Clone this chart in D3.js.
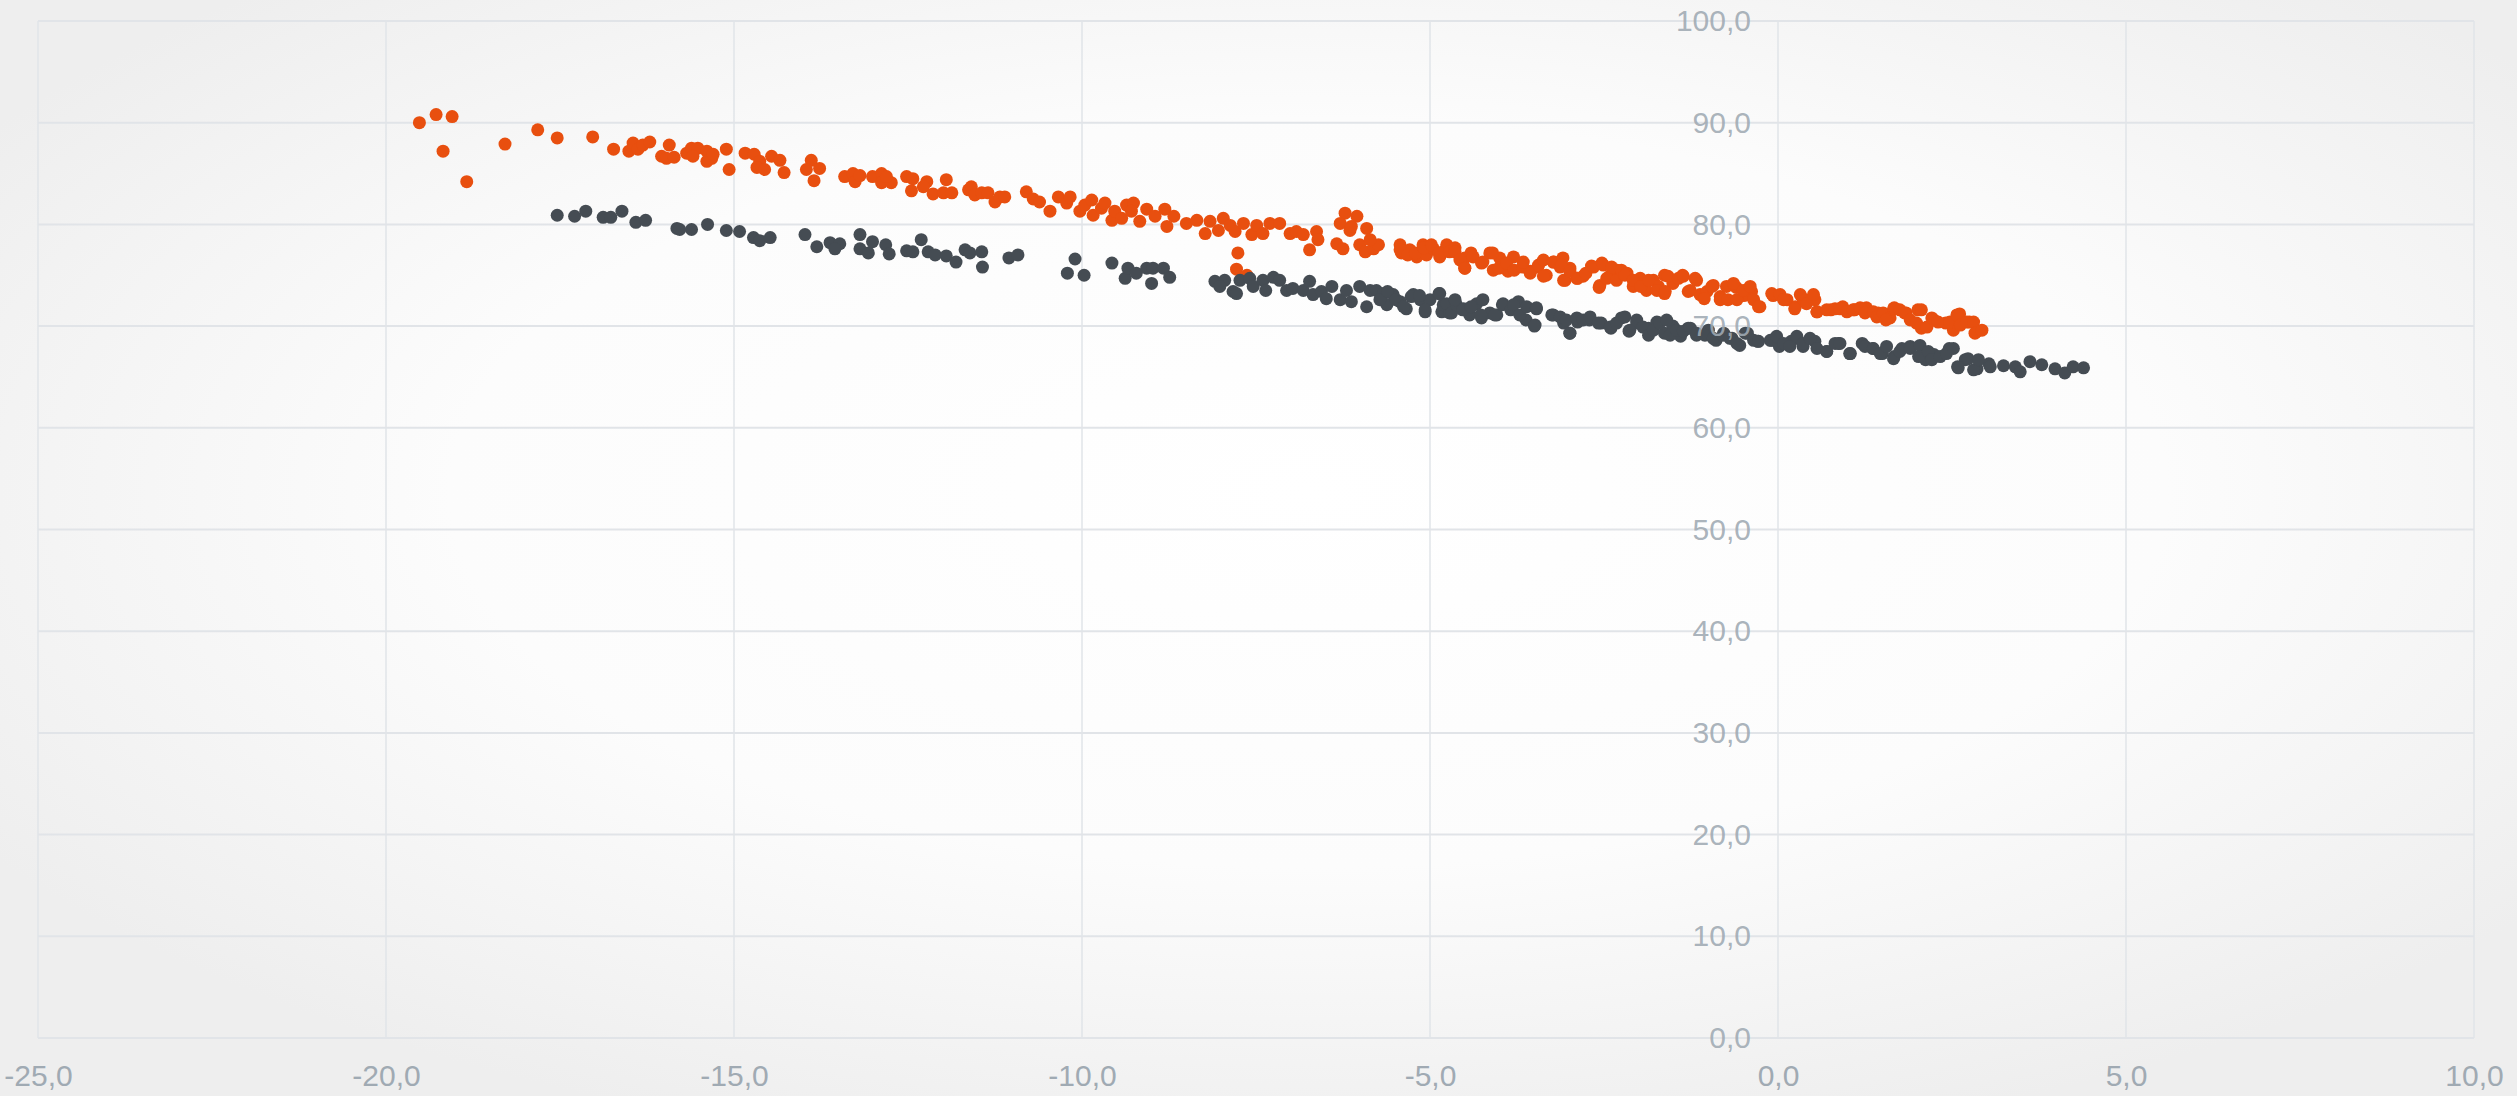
<!DOCTYPE html>
<html>
<head>
<meta charset="utf-8">
<script src="https://cdn.jsdelivr.net/npm/d3@7"></script>
<style>
  html, body { margin: 0; padding: 0; }
  body { width: 2517px; height: 1096px; overflow: hidden; }
  svg { display: block; }
</style>
</head>
<body>
<svg id="chart" width="2517" height="1096"></svg>
<script>
// Axis ranges and tick values
const xTicks = [-25, -20, -15, -10, -5, 0, 5, 10];
const yTicks = [0, 10, 20, 30, 40, 50, 60, 70, 80, 90, 100];

// Upper series (orange) as [x, y] pairs
const seriesOrange = [
  [-19.52,90.0],[-19.28,90.8],[-19.05,90.6],[-19.18,87.2],[-18.84,84.2],[-18.29,87.9],[-17.82,89.3],[-17.54,88.5],[-17.03,88.6],[-16.73,87.4],
  [-16.51,87.2],[-16.45,88.0],[-16.38,87.4],[-16.31,87.8],[-16.21,88.1],
  [-15.93,87.8],[-16.04,86.7],[-15.97,86.5],[-15.86,86.6],
  [-15.68,87.0],[-15.61,87.5],[-15.52,87.5],[-15.59,86.7],[-15.39,87.2],[-15.32,86.5],[-15.39,86.2],[-15.30,86.9],
  [-15.11,87.4],[-15.07,85.4],[-14.84,87.0],[-14.71,86.9],[-14.63,86.2],[-14.67,85.6],[-14.56,85.4],[-14.46,86.7],[-14.34,86.3],[-14.28,85.1],
  [-13.89,86.3],[-13.96,85.4],[-13.77,85.5],[-13.85,84.3],
  [-13.41,84.7],[-13.29,85.0],[-13.26,84.2],[-13.19,84.8],
  [-13.01,84.7],[-12.88,85.0],[-12.88,84.1],[-12.74,84.1],[-12.81,84.7],
  [-12.52,84.7],[-12.43,84.5],[-12.45,83.3],[-12.23,84.2],[-12.28,83.7],
  [-12.14,83.0],[-11.95,84.4],[-11.99,83.1],[-11.87,83.1],[-11.63,83.4],
  [-11.59,83.7],[-11.54,82.9],[-11.44,83.1],[-11.35,83.1],[-11.25,82.2],[-11.18,82.7],[-11.11,82.7],
  [-10.80,83.2],[-10.70,82.5],[-10.61,82.2],[-10.46,81.3],[-10.34,82.7],[-10.22,82.1],[-10.17,82.7],
  [-10.03,81.3],[-9.96,81.9],[-9.86,82.4],[-9.84,80.9],[-9.72,81.6],[-9.67,82.1],
  [-9.57,80.4],[-9.53,81.3],[-9.43,80.6],[-9.36,81.9],[-9.26,82.1],[-9.29,81.3],[-9.17,80.3],
  [-9.07,81.5],[-8.95,80.8],[-8.81,81.5],[-8.78,79.8],[-8.68,80.8],
  [-8.50,80.1],[-8.35,80.4],[-8.23,79.1],[-8.16,80.3],
  [-8.04,79.4],[-7.97,80.6],[-7.87,79.9],[-7.80,79.3],[-7.68,80.1],[-7.56,79.0],[-7.49,79.9],
  [-7.76,77.2],[-7.78,75.6],[-7.63,75.0],
  [-7.40,79.1],[-7.30,80.1],[-7.16,80.1],[-7.01,79.1],[-6.92,79.3],[-6.82,79.0],[-6.73,77.5],[-6.63,79.3],[-6.61,78.5],
  [-6.22,81.1],[-6.29,80.1],[-6.34,78.1],[-6.25,77.6],[-6.15,79.4],[-6.05,80.8],[-6.13,79.8],
  [-5.91,79.6],[-6.01,78.0],[-5.93,77.3],[-5.81,77.6],[-5.74,78.0],[-5.86,78.5],
  [-5.43,78.0],[-5.41,77.2],[-5.29,77.5],[-5.19,76.8],[-5.10,78.0],[-5.05,77.0],[-4.95,77.6],[-4.86,76.8],[-4.81,77.3],[-4.76,78.0],
  [-5.43,77.5],[-5.32,77.0],[-5.21,77.2],[-5.09,77.7],[-4.98,78.0],[-4.87,77.2],[-4.72,77.3],[-4.64,77.7],[-4.50,76.7],[-4.50,75.7],[-4.41,77.2],
  [-4.64,77.3],[-4.57,76.5],[-4.50,75.7],[-4.38,76.8],[-4.26,76.2],[-4.14,77.2],[-4.09,75.5],[-4.00,76.7],[-3.88,75.4],[-3.80,76.8],
  [-4.24,76.3],[-4.10,77.2],[-4.01,75.7],[-3.90,76.2],[-3.79,75.5],[-3.67,75.8],[-3.56,75.4],[-3.45,75.8],[-3.33,75.0],[-3.22,76.3],
  [-3.66,76.3],[-3.56,75.2],[-3.44,76.0],[-3.37,74.9],[-3.37,76.5],
  [-3.23,76.3],[-3.13,75.8],[-3.09,76.7],[-3.06,74.5],[-2.99,75.7],[-2.89,74.7],[-2.80,74.9],[-2.68,75.9],[-2.56,74.0],[-2.53,76.2],
  [-3.11,76.0],[-3.08,74.5],[-2.99,75.4],[-2.88,74.7],[-2.76,75.2],[-2.65,75.8],[-2.57,73.8],[-2.51,76.0],[-2.42,74.9],[-2.31,75.5],
  [-2.46,74.7],[-2.39,75.8],[-2.32,74.5],[-2.25,75.5],[-2.17,75.2],[-2.08,73.9],[-1.98,74.7],[-1.89,73.5],[-1.79,74.5],[-1.72,73.9],
  [-2.20,75.0],[-2.08,74.5],[-1.97,73.9],[-1.86,74.5],[-1.74,73.5],[-1.63,75.0],[-1.63,73.2],[-1.51,74.2],[-1.37,75.0],[-1.29,73.4],
  [-1.62,73.4],[-1.58,74.9],[-1.43,74.7],[-1.36,74.9],[-1.26,73.5],[-1.19,74.7],[-1.12,73.1],[-1.02,73.4],[-0.93,74.0],[-0.83,72.9],
  [-1.17,74.5],[-1.06,72.7],[-0.95,73.9],[-0.83,72.6],[-0.72,72.6],[-0.60,73.8],[-0.49,73.0],[-0.38,73.4],[-0.26,71.9],[-0.07,73.0],
  [-0.74,73.9],[-0.64,74.2],[-0.59,72.6],[-0.50,73.5],[-0.40,73.9],[-0.35,72.6],[-0.28,71.9],[-0.09,73.2],[0.03,73.1],[0.13,72.6],
  [0.08,72.6],[0.25,71.9],[0.36,72.7],[0.53,72.6],[0.56,71.4],[0.76,71.6],[0.93,71.9],[1.10,71.6],[1.27,71.8],[1.44,71.3],
  [0.24,71.7],[0.32,73.1],[0.41,72.2],[0.51,73.1],[0.56,71.4],[0.70,71.6],[0.82,71.7],
  [0.89,71.7],[0.99,71.4],[1.08,71.6],[1.18,71.8],[1.25,71.3],[1.37,71.4],[1.42,70.9],[1.51,71.3],[1.61,70.8],[1.66,71.7],
  [1.55,70.6],[1.67,71.8],[1.84,71.3],[2.01,71.6],[2.06,69.8],[2.24,70.6],[2.41,70.3],[2.52,69.6],[2.61,71.2],[2.75,70.4],[2.86,69.5],
  [1.75,71.6],[1.82,71.3],[1.90,70.6],[1.99,70.3],[2.06,71.6],[2.14,69.9],[2.21,70.8],[2.30,70.4],[2.47,70.4],[2.57,71.1],
  [2.62,70.1],[2.71,70.4],[2.81,70.4],[2.83,69.3],[2.93,69.6]
];

// Lower series (dark grey) as [x, y] pairs
const seriesGrey = [
  [-17.54,80.9],[-17.29,80.8],[-17.13,81.3],[-16.88,80.7],[-16.77,80.7],[-16.61,81.3],[-16.41,80.2],[-16.27,80.4],[-15.82,79.6],
  [-15.78,79.5],[-15.61,79.5],[-15.38,80.0],[-15.11,79.4],[-14.92,79.3],[-14.72,78.7],[-14.63,78.4],[-14.48,78.7],
  [-13.98,79.0],[-13.81,77.8],[-13.62,78.2],[-13.48,78.1],[-13.55,77.6],
  [-13.19,79.0],[-13.19,77.6],[-13.07,77.2],[-13.01,78.3],[-12.82,78.0],[-12.77,77.1],[-12.52,77.4],[-12.43,77.3],[-12.31,78.5],
  [-12.21,77.3],[-12.11,77.0],[-11.95,76.9],[-11.81,76.3],[-11.68,77.5],
  [-11.61,77.2],[-11.44,77.3],[-11.43,75.8],[-11.05,76.7],[-10.92,77.0],
  [-10.10,76.6],[-10.21,75.2],[-9.97,75.0],
  [-9.57,76.2],[-9.38,74.7],[-9.34,75.7],[-9.22,75.2],[-9.07,75.7],[-8.98,75.7],[-9.00,74.2],[-8.83,75.7],[-8.74,74.8],
  [-8.09,74.4],[-7.95,74.5],[-8.02,73.9],[-7.83,73.4],[-7.73,74.5],[-7.78,73.2],[-7.59,74.7],[-7.54,73.9],
  [-7.40,74.5],[-7.36,73.5],[-7.25,74.8],[-7.16,74.5],[-7.06,73.5],[-6.97,73.7],[-6.82,73.5],[-6.73,74.4],[-6.68,73.1],[-6.56,73.4],
  [-6.49,72.7],[-6.41,73.9],[-6.29,72.6],[-6.20,73.5],[-6.13,72.4],[-6.01,73.9],[-5.91,71.9],[-5.86,73.5],[-5.77,73.5],[-5.67,73.2],
  [-5.62,72.1],[-5.53,73.1],[-5.43,72.4],[-5.34,71.7],[-5.24,73.1],[-5.14,72.6],[-5.07,71.4],[-5.00,72.6],[-4.86,73.2],[-4.83,71.4],
  [-5.72,72.6],[-5.61,73.4],[-5.49,72.6],[-5.38,71.9],[-5.27,72.9],[-5.15,73.0],[-5.07,71.6],[-4.87,73.2],[-4.81,72.1],[-4.72,71.3],
  [-4.76,72.2],[-4.69,71.3],[-4.62,72.1],[-4.52,71.7],[-4.43,71.1],[-4.33,72.2],[-4.26,70.8],[-4.14,71.3],[-4.04,71.1],[-3.95,72.2],
  [-4.64,72.6],[-4.53,71.6],[-4.41,71.9],[-4.27,71.1],[-4.24,72.6],[-4.07,71.1],[-3.96,72.1],[-3.84,71.6],[-3.73,72.4],[-3.62,70.6],
  [-3.80,72.1],[-3.71,71.1],[-3.61,71.9],[-3.49,70.1],[-3.47,71.7],
  [-3.50,70.0],[-3.47,71.8],[-3.25,71.1],[-3.08,70.3],[-2.99,69.3],[-2.88,70.4],[-2.71,70.6],[-2.54,70.3],[-2.40,69.8],[-2.25,70.8],
  [-3.23,71.1],[-3.13,70.9],[-3.04,70.6],[-2.99,69.3],[-2.89,70.8],[-2.80,70.6],[-2.70,70.9],[-2.58,70.3],[-2.41,69.9],[-2.32,70.3],
  [-2.14,69.5],[-2.03,70.3],[-1.86,69.8],[-1.74,70.4],[-1.63,69.3],[-1.51,70.0],[-1.40,69.0],[-1.29,69.8],[-1.17,69.1],[-1.00,69.6],
  [-2.20,70.9],[-2.13,69.6],[-2.03,70.6],[-1.94,69.9],[-1.86,69.1],[-1.79,69.6],[-1.70,70.3],[-1.60,70.6],[-1.55,69.1],[-1.46,69.6],
  [-0.89,68.6],[-0.78,69.3],[-0.66,68.8],[-0.55,68.1],[-0.44,69.3],[-0.29,68.5],[-0.09,68.6],[0.02,68.0],[0.19,68.5],[0.36,68.0],
  [-1.36,69.5],[-1.26,69.8],[-1.17,69.3],[-1.05,69.1],[-0.93,68.8],[-0.79,69.1],[-0.69,68.8],[-0.59,68.3],[-0.47,69.3],[-0.35,68.6],
  [0.53,68.5],[0.70,67.5],[0.87,68.3],[1.04,67.3],[1.21,68.3],[1.36,67.8],[1.50,67.3],[1.67,67.0],[1.78,67.8],[1.90,68.0],
  [-0.28,68.5],[-0.11,68.6],[-0.02,69.0],[0.08,68.3],[0.17,68.0],[0.27,69.0],[0.36,68.3],[0.46,68.8],[0.56,67.8],[0.70,67.5],[0.82,68.3],
  [2.12,66.7],[2.24,67.2],[2.46,67.8],[2.58,66.0],[2.69,66.7],[2.86,65.8],[3.03,66.3],
  [0.89,68.3],[1.03,67.3],[1.25,68.0],[1.37,67.8],[1.47,67.3],[1.56,68.0],[1.66,66.8],[1.75,67.5],[1.90,67.8],[2.04,68.1],
  [2.02,67.0],[2.16,67.5],[2.21,66.7],[2.33,67.0],[2.42,67.3],[2.52,67.8],[2.59,65.9],[2.73,66.8],[2.81,65.7],[2.88,66.7],
  [3.05,66.0],[3.24,66.1],[3.41,66.0],[3.48,65.5],[3.62,66.5],[3.79,66.2],[3.98,65.8],[4.12,65.4],[4.24,66.0],[4.39,65.9]
];

const W = 2517, H = 1096;
const plot = { left: 38, right: 2474, top: 21, bottom: 1038 };

const svg = d3.select('#chart');

// Soft radial backdrop
const defs = svg.append('defs');
const bg = defs.append('radialGradient')
  .attr('id', 'bgGrad')
  .attr('cx', '52%').attr('cy', '45%').attr('r', '62%');
bg.append('stop').attr('offset', '0%').attr('stop-color', '#ffffff');
bg.append('stop').attr('offset', '55%').attr('stop-color', '#fcfcfc');
bg.append('stop').attr('offset', '100%').attr('stop-color', '#eeeeee');
svg.append('rect').attr('width', W).attr('height', H).attr('fill', 'url(#bgGrad)');

const x = d3.scaleLinear().domain([-25, 10]).range([plot.left, plot.right]);
const y = d3.scaleLinear().domain([0, 100]).range([plot.bottom, plot.top]);

const locale = d3.formatLocale({ decimal: ',', thousands: '.', grouping: [3], currency: ['', ''], minus: '-' });
const fmt = locale.format('.1f');

const gridColor = '#e1e4e8';
const labelColor = '#a0aab3';

// Grid
const grid = svg.append('g');
grid.selectAll('line.v').data(xTicks).join('line')
  .attr('class', 'v')
  .attr('x1', d => x(d)).attr('x2', d => x(d))
  .attr('y1', plot.top).attr('y2', plot.bottom)
  .attr('stroke', gridColor).attr('stroke-width', 1.5);
grid.selectAll('line.h').data(yTicks).join('line')
  .attr('class', 'h')
  .attr('x1', plot.left).attr('x2', plot.right)
  .attr('y1', d => y(d)).attr('y2', d => y(d))
  .attr('stroke', gridColor).attr('stroke-width', 2);

// Points
const dotR = 6.5;
svg.append('g').selectAll('circle').data(seriesOrange).join('circle')
  .attr('cx', d => x(d[0])).attr('cy', d => y(d[1])).attr('r', dotR)
  .attr('fill', '#e84f0f');
svg.append('g').selectAll('circle').data(seriesGrey).join('circle')
  .attr('cx', d => x(d[0])).attr('cy', d => y(d[1])).attr('r', dotR)
  .attr('fill', '#454c53');

// Axes (labels only)
const xAxis = d3.axisBottom(x).tickValues(xTicks).tickFormat(fmt).tickSize(0).tickPadding(27);
const yAxis = d3.axisLeft(y).tickValues(yTicks).tickFormat(fmt).tickSize(0).tickPadding(27);

const gx = svg.append('g').attr('transform', `translate(0,${plot.bottom})`).call(xAxis);
const gy = svg.append('g').attr('transform', `translate(${x(0)},0)`).call(yAxis);

[gx, gy].forEach(g => {
  g.select('.domain').remove();
  g.selectAll('text')
    .attr('fill', labelColor)
    .style('font-family', '"Liberation Sans", Arial, Helvetica, sans-serif')
    .style('font-size', '30px');
});
gy.selectAll('text').attr('fill-opacity', 0.9);
</script>
</body>
</html>
